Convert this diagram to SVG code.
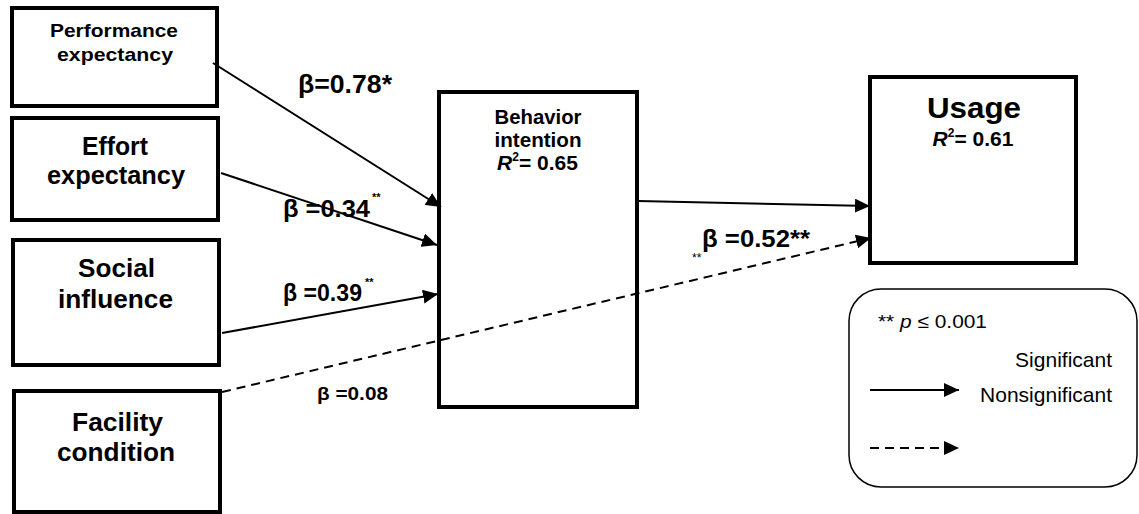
<svg xmlns="http://www.w3.org/2000/svg" width="1139" height="514" viewBox="0 0 1139 514">
<style>
.box{fill:#fff;stroke:#000;stroke-width:4}
.t{font-family:"Liberation Sans",Arial,sans-serif;font-weight:bold;fill:#000;text-anchor:middle}
.lbl{font-family:"Liberation Sans",Arial,sans-serif;font-weight:bold;fill:#000}
.n{font-family:"Liberation Sans",Arial,sans-serif;fill:#000}
.c{fill:none;stroke:#000;stroke-width:2}
.d{stroke-dasharray:9,6}
</style>
<defs>
<marker id="ah" markerUnits="userSpaceOnUse" markerWidth="16" markerHeight="14" refX="15" refY="7" orient="auto">
<path d="M0,0 L15,7 L0,14 Z" fill="#000"/>
</marker>
</defs>
<rect width="1139" height="514" fill="#fff"/>
<g id="performance"><rect class="box" x="12" y="8" width="205" height="98"/>
<text class="t" x="114" y="37" font-size="19" textLength="128" lengthAdjust="spacingAndGlyphs">Performance</text>
<text class="t" x="115" y="61" font-size="19" textLength="116" lengthAdjust="spacingAndGlyphs">expectancy</text></g>
<g id="effort"><rect class="box" x="12" y="118" width="206" height="102"/>
<text class="t" x="115" y="155" font-size="25" textLength="66" lengthAdjust="spacingAndGlyphs">Effort</text>
<text class="t" x="116" y="184" font-size="25" textLength="138" lengthAdjust="spacingAndGlyphs">expectancy</text></g>
<g id="social"><rect class="box" x="13" y="240" width="206" height="125"/>
<text class="t" x="116.5" y="277" font-size="26" textLength="77" lengthAdjust="spacingAndGlyphs">Social</text>
<text class="t" x="115.5" y="308" font-size="26" textLength="115" lengthAdjust="spacingAndGlyphs">influence</text></g>
<g id="facility"><rect class="box" x="14" y="391" width="206" height="121"/>
<text class="t" x="117.5" y="431" font-size="26" textLength="91" lengthAdjust="spacingAndGlyphs">Facility</text>
<text class="t" x="116" y="461" font-size="26" textLength="118" lengthAdjust="spacingAndGlyphs">condition</text></g>
<g id="behavior"><rect class="box" x="439" y="92" width="198" height="315"/>
<text class="t" x="538" y="124" font-size="21" textLength="87" lengthAdjust="spacingAndGlyphs">Behavior</text>
<text class="t" x="538" y="147" font-size="21" textLength="87" lengthAdjust="spacingAndGlyphs">intention</text>
<text class="t" x="537.5" y="170" font-size="21"><tspan font-style="italic">R</tspan><tspan font-size="12" dy="-9">2</tspan><tspan dy="9">= 0.65</tspan></text></g>
<g id="usage"><rect class="box" x="870" y="77" width="206" height="186"/>
<text class="t" x="974" y="118" font-size="30" textLength="94" lengthAdjust="spacingAndGlyphs">Usage</text>
<text class="t" x="973" y="146" font-size="21"><tspan font-style="italic">R</tspan><tspan font-size="12" dy="-9">2</tspan><tspan dy="9">= 0.61</tspan></text></g>
<g id="connectors">
<line class="c" x1="213" y1="63" x2="441" y2="207" marker-end="url(#ah)"/>
<line class="c" x1="221" y1="173" x2="437" y2="245" marker-end="url(#ah)"/>
<line class="c" x1="222" y1="333" x2="438" y2="294" marker-end="url(#ah)"/>
<line class="c" x1="638" y1="201" x2="870" y2="206" marker-end="url(#ah)"/>
<line class="c d" x1="222" y1="392" x2="871" y2="238" marker-end="url(#ah)"/>
</g>
<g id="labels">
<text class="lbl" x="298" y="93" font-size="25" textLength="94" lengthAdjust="spacingAndGlyphs">β=0.78*</text>
<text class="lbl" x="283" y="217" font-size="23" textLength="87" lengthAdjust="spacingAndGlyphs">β =0.34</text>
<text class="lbl" x="372" y="201" font-size="11">**</text>
<text class="lbl" x="283" y="301" font-size="23" textLength="79" lengthAdjust="spacingAndGlyphs">β =0.39</text>
<text class="lbl" x="365" y="286" font-size="11">**</text>
<text class="lbl" x="317" y="400" font-size="18" textLength="71" lengthAdjust="spacingAndGlyphs">β =0.08</text>
<text class="lbl" x="702" y="247" font-size="23" textLength="108" lengthAdjust="spacingAndGlyphs">β =0.52**</text>
<text class="n" x="692" y="262" font-size="12">**</text>
</g>
<g id="legend">
<rect x="849" y="289" width="288" height="198" rx="32" ry="32" fill="#fff" stroke="#000" stroke-width="1.5"/>
<text class="n" x="878" y="328" font-size="19" textLength="109" lengthAdjust="spacingAndGlyphs">** <tspan font-style="italic">p</tspan> ≤ 0.001</text>
<text class="n" x="1112" y="367" font-size="21" text-anchor="end">Significant</text>
<text class="n" x="1112" y="402" font-size="21" text-anchor="end">Nonsignificant</text>
<line class="c" x1="870" y1="390" x2="959" y2="390" marker-end="url(#ah)"/>
<line class="c d" x1="870" y1="448" x2="959" y2="448" marker-end="url(#ah)"/>
</g>
</svg>
